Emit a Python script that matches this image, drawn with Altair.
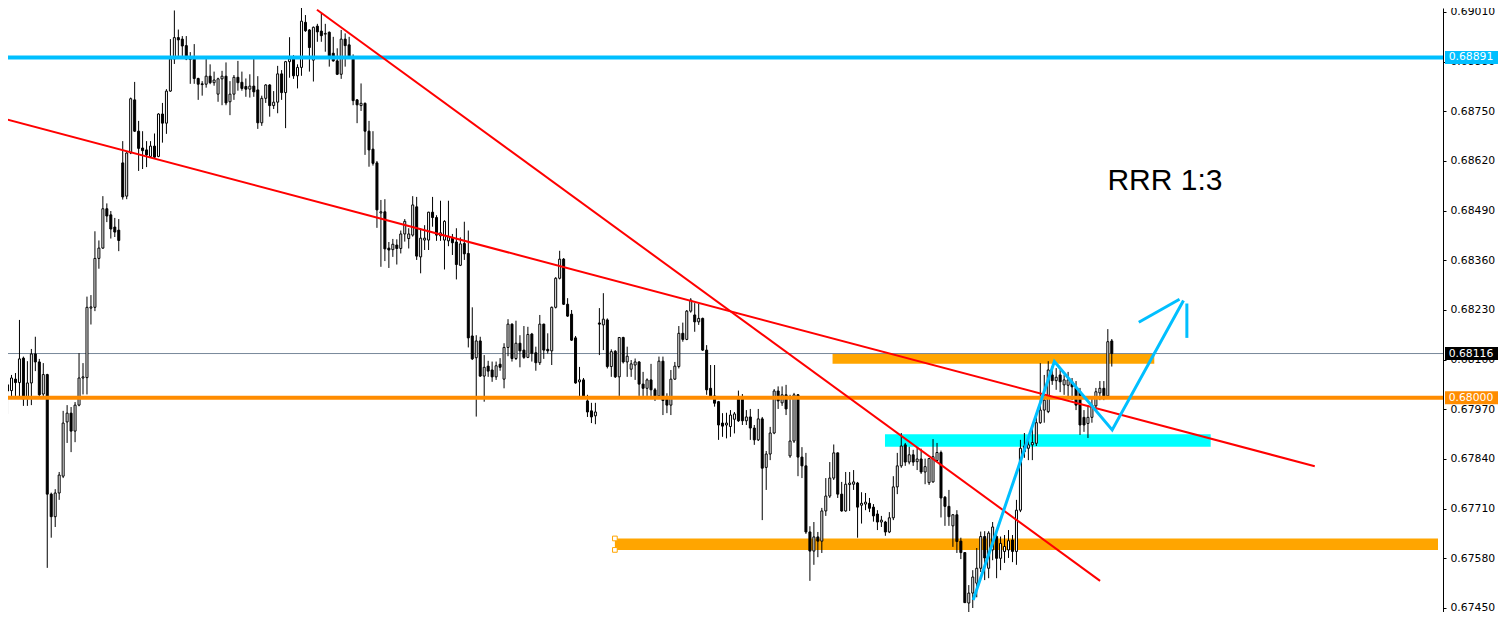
import altair as alt
import pandas as pd

# ---------------- candle data (prices in 1e-5 units, e.g. 68034 = 0.68034) -------------
O = [68034,68019,68049,68040,68104,68000,68039,68115,68094,68010,68061,67748,67689,67751,67795,67937,67960,67913,67981,68052,
     68053,68235,68237,68365,68392,68495,68479,68447,68439,68615,68528,68641,68780,68698,68654,68649,68632,68659,68632,68743,
     68719,68803,68887,68943,68939,68922,68887,68889,68836,68822,68821,68842,68825,68795,68835,68842,68775,68795,68839,68826,
     68815,68808,68816,68806,68720,68784,68819,68765,68774,68848,68799,68880,68887,68843,68865,68983,68963,68884,68973,68960,
     68952,68957,68902,68882,68847,68939,68924,68889,68780,68765,68771,68698,68651,68615,68484,68487,68392,68388,68400,68391,
     68429,68417,68426,68500,68369,68413,68413,68486,68472,68424,68413,68411,68420,68408,68347,68404,68378,68162,68105,68149,
     68057,68083,68073,68055,68088,68049,68132,68193,68103,68143,68125,68106,68167,68118,68092,68193,68127,68123,68237,68313,
     68363,68245,68219,68157,68042,68047,67992,67966,67953,68196,68191,68204,68082,68122,68055,68158,68094,68075,68086,68094,
     68036,68025,68047,68021,68005,68096,68003,67981,68049,68082,68169,68153,68227,68217,68199,68208,68125,68025,68005,67990,
     67934,67929,67925,67944,68003,68003,67940,67950,67921,67890,67945,67818,67853,67908,68018,67987,68008,67848,67887,68008,
     67845,67822,67649,67599,67636,67625,67704,67743,67790,67856,67748,67704,67773,67774,67777,67719,67722,67724,67714,67696,
     67675,67675,67649,67686,67767,67822,67877,67832,67851,67833,67840,67806,67778,67780,67836,67857,67740,67716,67665,67694,
     67625,67595,67463,67489,67515,67554,67637,67554,67602,67637,67580,67598,67602,67628,67598,67706,67859,67868,67877,67881,
     67935,67968,67964,68060,68045,68060,68034,68033,68042,68026,68016,67949,67933,67949,67979,68013,68025,68005,68149]
H = [68044,68060,68065,68204,68108,68096,68128,68160,68102,68091,68063,67752,67761,67806,67966,67981,67976,67989,68117,68091,
     68265,68269,68436,68412,68528,68509,68489,68471,68468,68672,68643,68786,68827,68725,68698,68672,68672,68692,68745,68772,
     68808,68939,69014,68964,68947,68947,68905,68926,68838,68829,68889,68873,68854,68838,68856,68878,68829,68845,68882,68854,
     68836,68847,68887,68842,68791,68821,68821,68803,68869,68858,68882,68944,68897,68873,69026,69002,68965,68972,68979,69007,
     68979,68959,68945,68915,68963,68954,68945,68899,68782,68823,68773,68725,68698,68620,68518,68520,68408,68416,68415,68438,
     68468,68444,68528,68526,68444,68452,68487,68526,68478,68516,68465,68516,68429,68444,68420,68461,68438,68237,68164,68160,
     68112,68097,68095,68095,68104,68143,68206,68195,68202,68164,68188,68186,68170,68134,68217,68194,68169,68239,68316,68385,
     68366,68261,68230,68162,68081,68052,68008,67987,67987,68235,68274,68208,68127,68125,68159,68160,68134,68099,68103,68096,
     68068,68051,68089,68026,68108,68108,68012,68073,68094,68188,68197,68230,68261,68248,68246,68210,68138,68086,68086,67992,
     67960,67961,67968,67963,68019,68010,67968,67971,67929,67971,67950,67861,67924,68023,68030,68030,68034,68008,68013,68010,
     67871,67856,67664,67675,67649,67712,67790,67832,67878,67857,67780,67806,67806,67811,67780,67753,67751,67738,67722,67706,
     67691,67678,67701,67795,67856,67908,67882,67872,67864,67871,67867,67841,67835,67892,67882,67862,67743,67759,67696,67706,
     67634,67596,67510,67549,67607,67650,67651,67651,67675,67654,67637,67641,67654,67641,67733,67890,67908,67895,67929,67960,
     68091,68060,68096,68083,68078,68073,68060,68068,68052,68044,68026,67968,67981,68000,68026,68044,68044,68180,68154]
L = [67958,68000,68005,68000,67979,67979,67981,68070,68005,68005,67555,67634,67662,67733,67790,67882,67858,67884,67978,68009,
     68009,68192,68227,68338,68390,68460,68417,68421,68384,68519,68520,68638,68696,68594,68599,68604,68630,68628,68630,68668,
     68691,68801,68874,68887,68887,68884,68822,68822,68780,68791,68812,68821,68817,68775,68766,68766,68740,68780,68804,68804,
     68788,68786,68788,68704,68712,68772,68736,68756,68745,68780,68706,68838,68835,68810,68843,68958,68854,68828,68932,68932,
     68906,68867,68880,68845,68835,68867,68887,68766,68719,68751,68636,68605,68608,68445,68343,68358,68340,68369,68349,68378,
     68409,68391,68422,68361,68326,68387,68387,68448,68411,68411,68336,68397,68374,68310,68345,68361,68132,68099,67951,68055,
     67990,68055,68042,68047,68071,68025,68109,68095,68099,68080,68102,68104,68095,68071,68086,68102,68116,68086,68234,68310,
     68243,68212,68149,68037,68002,68002,67950,67934,67931,68112,68125,68077,68055,68052,68005,68090,68055,68055,68047,68005,
     68005,68005,68003,67992,68003,67955,67960,67955,68047,68077,68147,68151,68223,68173,68191,68123,68008,68003,67977,67890,
     67898,67894,67898,67907,67937,67929,67929,67890,67877,67887,67680,67759,67837,67905,67971,67979,67955,67843,67882,67795,
     67790,67644,67521,67563,67583,67594,67691,67738,67785,67738,67702,67702,67704,67759,67634,67671,67706,67701,67676,67654,
     67662,67639,67646,67680,67748,67817,67822,67826,67822,67811,67801,67774,67772,67778,67832,67687,67665,67665,67610,67594,
     67578,67463,67439,67450,67478,67544,67523,67528,67575,67528,67549,67568,67581,67570,67563,67701,67843,67837,67837,67874,
     67932,67935,67960,68034,68021,68015,68008,68000,67994,67968,67903,67911,67895,67935,67968,67994,67994,68000,68082]
C = [68018,68052,68040,68102,67997,68039,68115,68094,68008,68061,67748,67689,67751,67798,67934,67960,67913,67981,68052,68055,
     68237,68238,68365,68392,68495,68476,68442,68434,68412,68526,68641,68783,68698,68653,68647,68636,68659,68630,68743,68719,
     68803,68887,68943,68937,68921,68887,68886,68836,68821,68820,68842,68825,68832,68835,68842,68772,68795,68839,68825,68810,
     68808,68816,68801,68720,68784,68819,68765,68774,68848,68799,68880,68887,68843,68865,68986,68961,68917,68970,68958,68948,
     68954,68889,68882,68847,68939,68922,68889,68778,68767,68771,68698,68649,68614,68492,68487,68390,68387,68402,68391,68429,
     68462,68429,68505,68371,68418,68418,68486,68472,68426,68432,68462,68422,68406,68349,68403,68377,68157,68102,68149,68057,
     68080,68070,68055,68084,68080,68132,68193,68103,68143,68123,68106,68166,68116,68092,68193,68125,68123,68237,68313,68363,
     68245,68214,68151,68039,68047,68005,67963,67950,67963,68193,68206,68082,68121,68055,68158,68094,68109,68089,68094,68036,
     68025,68047,68021,68005,68096,67993,67981,68049,68083,68169,68153,68227,68256,68199,68208,68125,68021,68005,67986,67929,
     67926,67934,67955,67958,67940,67940,67950,67921,67890,67945,67816,67853,67908,68018,67992,68008,67971,67887,68008,67845,
     67822,67649,67599,67636,67625,67704,67743,67790,67856,67748,67704,67774,67777,67780,67714,67724,67727,67711,67691,67675,
     67680,67649,67686,67767,67822,67874,67832,67851,67832,67840,67806,67820,67841,67846,67857,67738,67716,67689,67694,67624,
     67595,67464,67489,67531,67554,67637,67581,67646,67662,67580,67619,67611,67626,67598,67706,67868,67874,67877,67883,67935,
     67968,67994,68073,68045,68054,68042,68047,68047,68029,67981,67929,67929,67949,67981,68016,68025,68005,68147,68116]

# ---------------- levels, zones, drawings ----------------
level_prices = [0.68891, 0.68000, 0.68116]
level_colors = ["#00BFFF", "#FF8C00", "#778899"]
level_widths = [4, 4, 1]

tick_values = [0.67450, 0.67580, 0.67710, 0.67840, 0.67970, 0.68100, 0.68230,
               0.68360, 0.68490, 0.68620, 0.68750, 0.68880, 0.69010]

zone_x1 = [152.9, 207.7, 220.9]
zone_x2 = [360.125, 288.7, 302.9]
zone_lo = [0.67602, 0.68089, 0.67872]
zone_hi = [0.67632, 0.68116, 0.67905]
zone_colors = ["#FFA500", "#FFA500", "#00FFFF"]

trend_id = ["t1", "t1", "t2", "t2"]
trend_x = [-0.625, 329.1, 77.9, 275.05]
trend_y = [0.68730, 0.67821, 0.69016, 0.67521]

arrow_id = ["z", "z", "z", "z", "h1", "h1", "h2", "h2"]
arrow_x = [243.1, 263.55, 278.1, 296.05, 284.8, 295.05, 296.9, 296.9]
arrow_y = [0.67471, 0.68095, 0.67916, 0.68255, 0.68198, 0.68258, 0.68247, 0.68157]

note_text = ["RRR 1:3"]
note_x = [276.9]
note_y = [0.68544]

box_prices = [0.68891, 0.68116, 0.68000]
box_colors = ["#00BFFF", "#000000", "#FF8C00"]

# ---------------- frames ----------------
n = len(O)
cdf = pd.DataFrame({
    "k": list(range(n)),
    "o": [v / 100000 for v in O],
    "h": [v / 100000 for v in H],
    "l": [v / 100000 for v in L],
    "c": [v / 100000 for v in C],
})
cdf["fill"] = ["white" if c >= o else "black" for o, c in zip(cdf["o"], cdf["c"])]

lvl = pd.DataFrame({"p": level_prices, "col": level_colors, "w": level_widths})
zones = pd.DataFrame({"x1": zone_x1, "x2": zone_x2, "lo": zone_lo, "hi": zone_hi, "col": zone_colors})
trend = pd.DataFrame({"id": trend_id, "x": trend_x, "y": trend_y, "ord": [0, 1, 0, 1]})
arrow = pd.DataFrame({"id": arrow_id, "x": arrow_x, "y": arrow_y, "ord": [0, 1, 2, 3, 0, 1, 0, 1]})
note = pd.DataFrame({"t": note_text, "x": note_x, "y": note_y})
handles = pd.DataFrame({"x": [zone_x1[0], zone_x1[0]], "y": [zone_lo[0], zone_hi[0]]})
half = 6.5 / 38205.0
boxes = pd.DataFrame({
    "p": box_prices,
    "top": [p + half for p in box_prices],
    "bot": [p - half for p in box_prices],
    "col": box_colors,
    "label": [f"{p:.5f}" for p in box_prices],
})

xs = alt.Scale(domain=[1.375, 360.125], nice=False, zero=False)
ys = alt.Scale(domain=[0.674395, 0.6902046], nice=False, zero=False)
yaxis = alt.Axis(orient="right", values=tick_values, format=".5f", title=None,
                 labelFont="DejaVu Sans", labelFontSize=10.8, labelColor="black",
                 tickColor="black", tickSize=3, domainColor="black", labelPadding=4,
                 grid=False, labelOverlap=False)

def X(f):
    return alt.X(f, type="quantitative", scale=xs, axis=None)

def Y(f):
    return alt.Y(f, type="quantitative", scale=ys, axis=yaxis)

zone_layer = alt.Chart(zones).mark_rect(clip=True).encode(
    x=X("x1"), x2="x2", y=Y("lo"), y2="hi", color=alt.Color("col:N", scale=None))

handle_layer = alt.Chart(handles).mark_point(shape="square", size=22, filled=True, fill="white",
                                             stroke="#FFA500", strokeWidth=1, opacity=1).encode(
    x=X("x"), y=Y("y"))

bid_layer = alt.Chart(lvl.iloc[[2]]).mark_rule(clip=True).encode(
    y=Y("p"), color=alt.Color("col:N", scale=None), strokeWidth=alt.StrokeWidth("w:Q", scale=None))

wick_layer = alt.Chart(cdf).mark_rule(color="black", strokeWidth=1, clip=True).encode(
    x=X("k"), y=Y("l"), y2="h")

body_layer = alt.Chart(cdf).mark_bar(size=2, stroke="black", strokeWidth=1, clip=True).encode(
    x=X("k"), y=Y("o"), y2="c", fill=alt.Fill("fill:N", scale=None))

level_layer = alt.Chart(lvl.iloc[[0, 1]]).mark_rule(clip=True).encode(
    y=Y("p"), color=alt.Color("col:N", scale=None), strokeWidth=alt.StrokeWidth("w:Q", scale=None))

trend_layer = alt.Chart(trend).mark_line(color="#FF0000", strokeWidth=2, clip=True).encode(
    x=X("x"), y=Y("y"), detail="id:N", order="ord:Q")

arrow_layer = alt.Chart(arrow).mark_line(color="#00BFFF", strokeWidth=3, clip=True,
                                         strokeJoin="miter", strokeCap="butt").encode(
    x=X("x"), y=Y("y"), detail="id:N", order="ord:Q")

note_layer = alt.Chart(note).mark_text(align="left", baseline="alphabetic", font="Liberation Sans",
                                       fontSize=30, color="black").encode(
    x=X("x"), y=Y("y"), text="t:N")

box_layer = alt.Chart(boxes).mark_rect().encode(
    x=alt.value(1437), x2=alt.value(1490), y=Y("top"), y2="bot", color=alt.Color("col:N", scale=None))

box_text = alt.Chart(boxes).mark_text(align="center", baseline="middle", font="DejaVu Sans",
                                      fontSize=10.8, color="white").encode(
    x=alt.value(1463), y=Y("p"), text="label:N")

chart = alt.layer(
    zone_layer, bid_layer, wick_layer, body_layer, level_layer, trend_layer,
    handle_layer, arrow_layer, note_layer, box_layer, box_text
).properties(
    width=1435, height=604,
    autosize=alt.AutoSizeParams(type="none"),
    padding={"left": 0, "top": 0, "right": 55, "bottom": 0},
    background="white"
).configure_view(stroke=None)

chart.save("out.html", embed_options={"renderer": "svg", "actions": False})
